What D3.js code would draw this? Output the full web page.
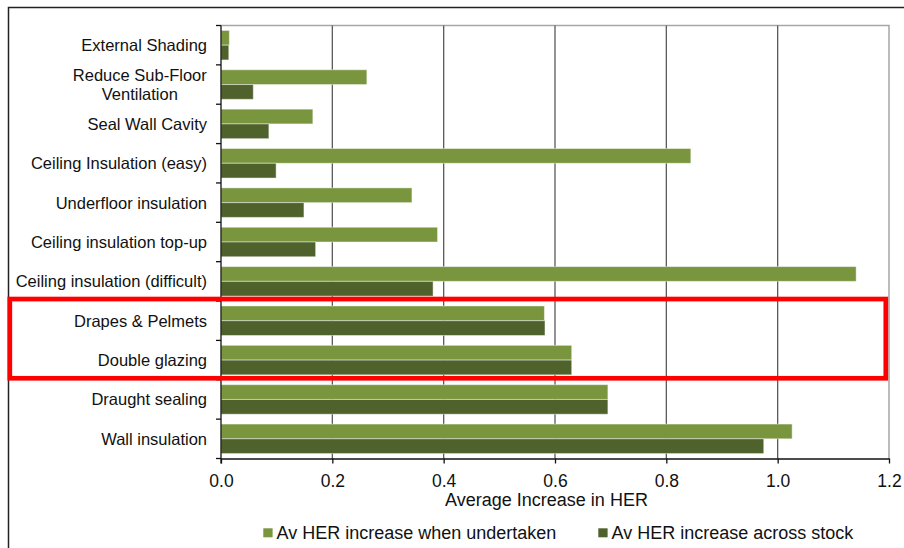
<!DOCTYPE html>
<html>
<head>
<meta charset="utf-8">
<script src="https://cdn.jsdelivr.net/npm/d3@7"></script>
<style>
  html, body { margin: 0; padding: 0; background: #fff; }
  svg { display: block; font-family: "Liberation Sans", Arial, sans-serif; }
</style>
</head>
<body>
<svg id="chart" width="904" height="548"></svg>
<script>
// Retrofit measures, top to bottom
const categories = [
  "External Shading",
  "Reduce Sub-Floor\nVentilation",
  "Seal Wall Cavity",
  "Ceiling Insulation (easy)",
  "Underfloor insulation",
  "Ceiling insulation top-up",
  "Ceiling insulation (difficult)",
  "Drapes & Pelmets",
  "Double glazing",
  "Draught sealing",
  "Wall insulation"
];
// Average HER increase when the measure is undertaken
const whenUndertaken = [0.015, 0.262, 0.165, 0.844, 0.343, 0.389, 1.141, 0.581, 0.630, 0.695, 1.026];
// Average HER increase across the whole stock
const acrossStock   = [0.014, 0.058, 0.086, 0.099, 0.149, 0.170, 0.381, 0.582, 0.630, 0.695, 0.975];
const seriesNames = ["Av HER increase when undertaken", "Av HER increase across stock"];
const xTicks = [0, 0.2, 0.4, 0.6, 0.8, 1.0, 1.2];
const xTitle = "Average Increase in HER";
const highlighted = ["Drapes & Pelmets", "Double glazing"];

const colors = ["#79953E", "#4F622B"];
const svg = d3.select("#chart");

// outer frame
svg.append("path")
  .attr("d", "M8.5,548 V7.5 H904")
  .attr("fill", "none").attr("stroke", "#222").attr("stroke-width", 1.5);

const plot = { left: 221, right: 889, top: 25.5, bottom: 458.5 };

const x = d3.scaleLinear().domain([0, 1.2]).range([plot.left, plot.right]);
const y = d3.scaleBand().domain(categories)
  .range([plot.top, plot.bottom]).paddingInner(0.25).paddingOuter(0.125);
const ySub = d3.scaleBand().domain([0, 1]).range([0, y.bandwidth()]);

// plot area border (top and right)
svg.append("path")
  .attr("d", `M${plot.left},${plot.top} H${plot.right} V${plot.bottom}`)
  .attr("fill", "none").attr("stroke", "#a6a6a6").attr("stroke-width", 1.5);

// vertical gridlines
svg.append("g").selectAll("line")
  .data(xTicks.filter(t => t > 0 && t < 1.2))
  .join("line")
  .attr("x1", d => x(d)).attr("x2", d => x(d))
  .attr("y1", plot.top).attr("y2", plot.bottom)
  .attr("stroke", "#5a5a5a").attr("stroke-width", 1.3);

// bars
const rows = categories.map((c, i) => ({ c, vals: [whenUndertaken[i], acrossStock[i]] }));
const groups = svg.append("g").selectAll("g")
  .data(rows).join("g")
  .attr("transform", d => `translate(0,${y(d.c)})`);
groups.selectAll("rect")
  .data(d => d.vals.map((v, k) => ({ v, k })))
  .join("rect")
  .attr("x", x(0))
  .attr("y", d => ySub(d.k))
  .attr("width", d => x(d.v) - x(0))
  .attr("height", ySub.bandwidth())
  .attr("fill", d => colors[d.k])
  .attr("stroke", "rgba(255,255,255,0.45)")
  .attr("stroke-width", 1);

// x axis
const xAxis = svg.append("g")
  .attr("transform", `translate(0,${plot.bottom})`)
  .call(d3.axisBottom(x).tickValues(xTicks).tickFormat(d3.format(".1f"))
    .tickSizeInner(5).tickSizeOuter(0).tickPadding(11));
xAxis.select(".domain").attr("stroke", "#111").attr("stroke-width", 1.3);
xAxis.selectAll(".tick line").attr("stroke", "#111").attr("stroke-width", 1.3);
xAxis.selectAll(".tick text").attr("font-size", 17.5).attr("fill", "#111")
  .attr("font-family", "Liberation Sans, Arial, sans-serif");

// y axis line and category ticks
svg.append("line")
  .attr("x1", plot.left).attr("x2", plot.left)
  .attr("y1", plot.top).attr("y2", plot.bottom + 5)
  .attr("stroke", "#111").attr("stroke-width", 1.3);
const step = y.step();
svg.append("g").selectAll("line")
  .data(d3.range(categories.length + 1))
  .join("line")
  .attr("x1", plot.left - 5).attr("x2", plot.left)
  .attr("y1", i => plot.top + i * step).attr("y2", i => plot.top + i * step)
  .attr("stroke", "#111").attr("stroke-width", 1.3);

// category labels
const labelRight = 207;
svg.append("g").selectAll("text")
  .data(categories).join("text")
  .attr("font-size", 16.5).attr("fill", "#111")
  .each(function(d) {
    const lines = d.split("\n");
    const cy = y(d) + y.bandwidth() / 2;
    const t = d3.select(this);
    const lh = 18.5;
    const first = cy + 6 - (lines.length - 1) * lh / 2;
    if (lines.length === 1) {
      t.attr("text-anchor", "end").attr("x", labelRight).attr("y", first).text(d);
    } else {
      t.attr("text-anchor", "middle");
      lines.forEach((ln, j) => {
        t.append("tspan").attr("x", 0).attr("y", first + j * lh).text(ln);
      });
      // center multi-line block under its widest line, right edge at labelRight
      const w = this.getBBox().width;
      t.selectAll("tspan").attr("x", labelRight - w / 2);
    }
  });

// x axis title
svg.append("text")
  .attr("x", 546.5).attr("y", 506)
  .attr("text-anchor", "middle")
  .attr("font-size", 18).attr("fill", "#111")
  .text(xTitle);

// legend
const legendItems = [
  { name: seriesNames[0], color: colors[0], sx: 263.3, tx: 276.5 },
  { name: seriesNames[1], color: colors[1], sx: 598.3, tx: 611.5 }
];
const lg = svg.append("g");
lg.selectAll("rect").data(legendItems).join("rect")
  .attr("x", d => d.sx).attr("y", 528.3).attr("width", 9.3).attr("height", 9)
  .attr("fill", d => d.color);
lg.selectAll("text").data(legendItems).join("text")
  .attr("x", d => d.tx).attr("y", 538.5)
  .attr("font-size", 18).attr("fill", "#111")
  .text(d => d.name);

// highlight box around the selected measures
const hi0 = y(highlighted[0]) - (step - y.bandwidth()) / 2;
const hi1 = y(highlighted[highlighted.length - 1]) + y.bandwidth() + (step - y.bandwidth()) / 2;
svg.append("rect")
  .attr("x", 9.8).attr("y", hi0 - 2)
  .attr("width", 885.8 - 9.8).attr("height", (hi1 - hi0) + 0.5)
  .attr("fill", "none").attr("stroke", "#ff0000").attr("stroke-width", 4.7);
</script>
</body>
</html>
